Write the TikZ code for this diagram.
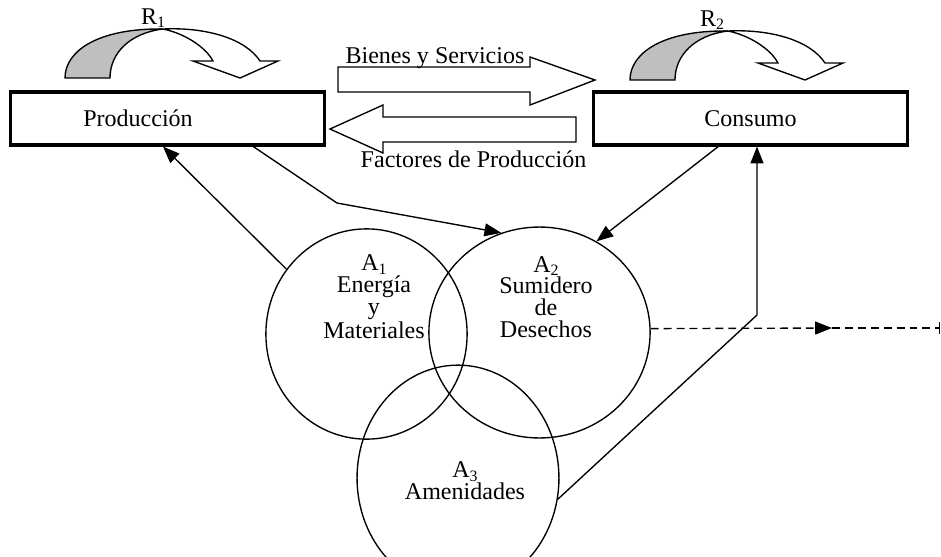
\documentclass[tikz,border=0pt]{standalone}
\usepackage{fontspec}
\setmainfont{Liberation Serif}
\usetikzlibrary{arrows.meta,shapes.geometric}

% curved loop arrow above a box (grey back, white front)
\newcommand{\bucle}[1]{%
  \begin{scope}[shift={#1}]
    \filldraw[fill=gray!50] (0,0) .. controls (0,-28) and (35,-50) .. (98,-49)
      .. controls (65,-45) and (45,-25) .. (45,0) -- cycle;
    \filldraw[fill=white] (98,-49) .. controls (140,-51) and (180,-40) .. (195,-17)
      -- (213,-17) -- (175,0) -- (128,-17) -- (148,-17)
      .. controls (140,-32) and (118,-45) .. (98,-49) -- cycle;
  \end{scope}}
% small index under a letter
\newcommand{\indice}[1]{\raisebox{-0.3ex}{\fontsize{7}{7}\selectfont #1}}

\begin{document}
\begin{tikzpicture}[x=0.0155cm, y=-0.0155cm, line width=0.6pt,
    font=\fontsize{10.6}{9.6}\selectfont,
    caja/.style={rectangle, draw, line width=1.4pt, minimum width=4.88cm, minimum height=0.82cm, inner sep=0pt},
    area/.style={ellipse, draw, inner sep=0pt},
    flecha/.style={-{Triangle[length=0.26cm,width=0.2cm]}}]
    \useasboundingbox (0,0) rectangle (941,556);
    \clip (0,0) rectangle (941,556);

    % Boxes
    \node (1) [caja] at (167.5,118.5) {};
    \node (t1) [anchor=base] at (138,126) {Producción};
    \node (2) [caja] at (750.5,118.5) {Consumo};

    % Loops
    \bucle{(65,78)}
    \node (r1) at (153,18) {R\indice{1}};
    \bucle{(630,80)}
    \node (r2) at (712,20) {R\indice{2}};

    % Flows between the boxes
    \draw (338,67) -- (530,67) -- (530,57) -- (595,80) -- (530,105) -- (530,92) -- (338,92) -- cycle;
    \node (b) [anchor=base] at (435,63) {Bienes y Servicios};
    \draw (576,117) -- (383,117) -- (383,105) -- (330,129) -- (383,153) -- (383,142) -- (576,142) -- cycle;
    \node (f) [anchor=base] at (473.5,167) {Factores de Producción};

    % Ellipses with equal look
    \node (3) [area, minimum width=3.12cm, minimum height=3.26cm] at (366.5,334) {};
    \node (4) [area, minimum width=3.43cm, minimum height=3.27cm] at (539.5,332.5) {};
    \node (5) [area, minimum width=3.13cm, minimum height=3.50cm] at (458,478) {};
    \node (t3) [align=center] at (374,297) {A\indice{1}\\Energía\\y\\Materiales};
    \node (t4) [align=center] at (546,297) {A\indice{2}\\Sumidero\\de\\Desechos};
    \node (t5) [align=center] at (465,481) {A\indice{3}\\Amenidades};

    % Edges
    \coordinate (k1) at (337,203);
    \coordinate (k2) at (757,315);
    \coordinate (k3) at (832,328);
    \coordinate (k4) at (940,328);
    \draw[flecha] (3.141) -- ([xshift=-0.07cm]1.south);
    \draw[flecha] ([xshift=1.33cm]1.south) -- (k1) -- (4.111);
    \draw[flecha] ([xshift=-0.5cm]2.south) -- (4.58);
    \draw[flecha] (5.-12) -- (k2) -- (k2 |- 2.south);
    \draw[flecha, dash pattern=on 3.5pt off 2.2pt] (4.2) -- (k3);
    \draw[-|, dash pattern=on 3.5pt off 2.2pt] (k3) -- (k4);

\end{tikzpicture}
\end{document}
